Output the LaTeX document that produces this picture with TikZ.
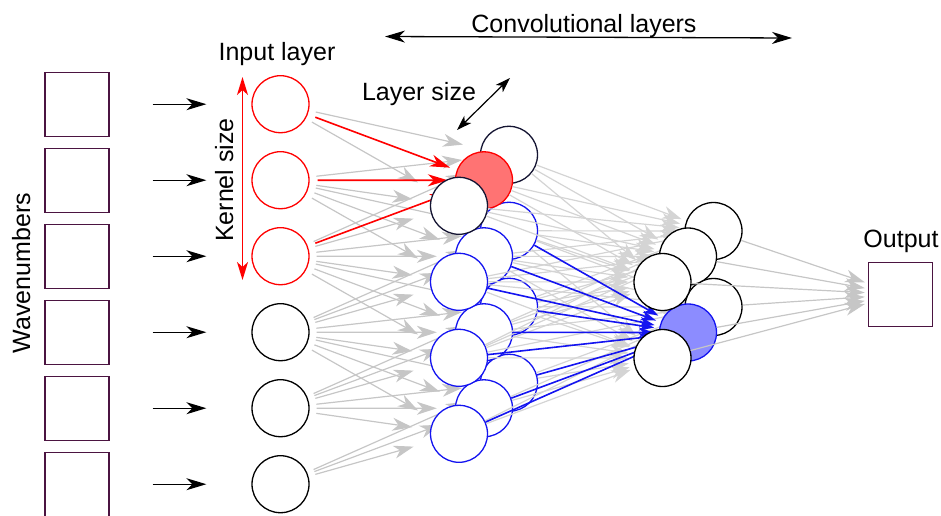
\documentclass[tikz,border=0pt]{standalone}
\usepackage{fontspec}
\setmainfont{Liberation Sans}
\usetikzlibrary{arrows.meta}

\definecolor{sqcol}{RGB}{75,20,65}
\definecolor{navy}{RGB}{20,20,50}
\definecolor{redfill}{RGB}{255,115,115}
\definecolor{bluefill}{RGB}{140,140,255}
\definecolor{blueline}{RGB}{20,20,240}
\definecolor{linkgray}{RGB}{198,198,198}
\definecolor{lightlink}{RGB}{212,212,212}

% drawing layers, bottom to top
\pgfdeclarelayer{inlinks}
\pgfdeclarelayer{convA}
\pgfdeclarelayer{midlinks}
\pgfdeclarelayer{convB}
\pgfsetlayers{inlinks,convA,midlinks,convB,main}

\tikzset{
  lbl/.style={font=\fontsize{25pt}{30pt}\selectfont, inner sep=0pt},
  sample/.style={draw=sqcol, line width=1.4pt, fill=white, minimum size=64pt, inner sep=0pt},
  neuron/.style={circle, draw, fill=white, line width=1.3pt, minimum size=57pt, inner sep=0pt},
  redneuron/.style={neuron, draw=red},
  blueneuron/.style={neuron, draw=blueline},
  navyneuron/.style={neuron, draw=navy},
  feed/.style={line width=1.3pt, -{Stealth[length=20pt,width=12pt,inset=6pt]}},
  graylink/.style={draw=linkgray, line width=1.2pt, shorten <=7pt, shorten >=18pt,
    -{Stealth[length=20pt,width=13pt,inset=6pt,fill=linkgray]}},
  redlink/.style={draw=red, line width=1.6pt, shorten <=8pt, shorten >=7pt,
    -{Stealth[length=20pt,width=12pt,inset=6pt]}},
  midlink/.style={draw=lightlink, line width=1.2pt, shorten >=5pt,
    -{Stealth[length=19pt,width=13pt,inset=6pt,fill=lightlink]}},
  bluelink/.style={draw=blueline, line width=1.6pt, shorten >=5pt,
    -{Stealth[length=15pt,width=10pt,inset=4pt]}},
  outlink/.style={draw=linkgray, line width=1.2pt, shorten >=3pt,
    -{Stealth[length=20pt,width=13pt,inset=6pt,fill=linkgray]}},
  dimarrow/.style={line width=1.3pt, {Stealth[length=20pt,width=12pt,inset=6pt]}-{Stealth[length=20pt,width=12pt,inset=6pt]}},
}

\begin{document}
\begin{tikzpicture}[x=1pt, y=-1pt]
\useasboundingbox (0,0) rectangle (941,515);

% wavenumber samples and input neurons
\foreach \i in {0,...,5}{
  \node[sample] (sq\i) at (77, 104.2+76*\i) {};
}
\foreach \i in {0,1,2}{
  \node[redneuron] (in\i) at (280.5, 104.2+76*\i) {};
}
\foreach \i in {3,4,5}{
  \node[neuron] (in\i) at (280.5, 104.2+76*\i) {};
}
\foreach \i in {0,...,5}{
  \draw[feed] (sq\i) -- (in\i) [shorten <=43pt, shorten >=45pt];
}

% first convolutional layer, drawn back to front
\begin{pgfonlayer}{convA}
\node[navyneuron] (m0b) at (509, 154.8) {};
\foreach \k in {1,2,3}{ \node[blueneuron] (m\k b) at (509, 154.8+76*\k) {}; }
\node[neuron, draw=red, fill=redfill] (m0m) at (484, 180.3) {};
\foreach \k in {1,2,3}{ \node[blueneuron] (m\k m) at (484, 180.3+76*\k) {}; }
\node[navyneuron] (m0f) at (459, 205.8) {};
\foreach \k in {1,2,3}{ \node[blueneuron] (m\k f) at (459, 205.8+76*\k) {}; }
\end{pgfonlayer}

% second convolutional layer, drawn back to front
\begin{pgfonlayer}{convB}
\node[neuron] (t0b) at (713.5, 231) {};
\node[neuron] (t1b) at (713.5, 307) {};
\node[neuron] (t0m) at (688, 256.5) {};
\node[neuron, draw=blueline, fill=bluefill] (t1m) at (688, 332.5) {};
\node[neuron] (t0f) at (662.5, 282) {};
\node[neuron] (t1f) at (662.5, 358) {};
\end{pgfonlayer}

% connections input -> first convolutional layer (kernel of three)
\begin{pgfonlayer}{inlinks}
\foreach \k in {0,...,3}{
  \foreach \d in {0,1,2}{
    \pgfmathtruncatemacro\i{\k+\d}
    \draw[graylink] (in\i) -- (m\k b);
    \draw[graylink] (in\i) -- (m\k f);
    \ifnum\k>0 \draw[graylink] (in\i) -- (m\k m); \fi
  }
}
\foreach \i in {0,1,2}{
  \draw[redlink] (in\i) -- (m0m);
}
\end{pgfonlayer}

% connections first -> second convolutional layer
\begin{pgfonlayer}{midlinks}
\foreach \j in {0,1}{
  \foreach \d in {0,1,2}{
    \pgfmathtruncatemacro\k{\j+\d}
    \foreach \c in {b,m,f}{
      \draw[midlink] (m\k\c) -- (t\j b);
      \draw[midlink] (m\k\c) -- (t\j f);
      \ifnum\j=0 \draw[midlink] (m\k\c) -- (t\j m); \fi
    }
  }
}
\foreach \k in {1,2,3}{
  \foreach \c in {b,m,f}{
    \draw[bluelink] (m\k\c) -- (t1m);
  }
}
\end{pgfonlayer}

% output
\node[sample] (out) at (900.5, 294.5) {};
\foreach \j in {0,1}{
  \foreach \c in {b,m,f}{
    \draw[outlink] (t\j\c) -- (out);
  }
}

% labels
\node[lbl, anchor=base] (tconv) at (584, 32) {Convolutional layers};
\node[lbl, anchor=base] (tin) at (277, 60) {Input layer};
\node[lbl, anchor=base] (tls) at (419, 100) {Layer size};
\node[lbl, anchor=base] (tout) at (901, 247) {Output};
\node[lbl, anchor=base, rotate=90] (twave) at (30, 273) {Wavenumbers};
\node[lbl, anchor=base, rotate=90] (tker) at (233, 180) {Kernel size};

% dimension arrows
\coordinate (cvA) at (385, 36.5);
\coordinate (cvB) at (792, 38);
\draw[dimarrow] (cvA) -- (cvB);

\coordinate (lsA) at (457, 130);
\coordinate (lsB) at (510, 78);
\draw[line width=1.2pt, {Stealth[length=15pt,width=10pt,inset=4pt]}-{Stealth[length=15pt,width=10pt,inset=4pt]}] (lsA) -- (lsB);

\coordinate (kA) at (242.5, 77);
\coordinate (kB) at (242.5, 280);
\draw[draw=red, line width=1.6pt, {Stealth[length=18pt,width=11pt,inset=5pt,red]}-{Stealth[length=18pt,width=11pt,inset=5pt,red]}] (kA) -- (kB);

\end{tikzpicture}
\end{document}
